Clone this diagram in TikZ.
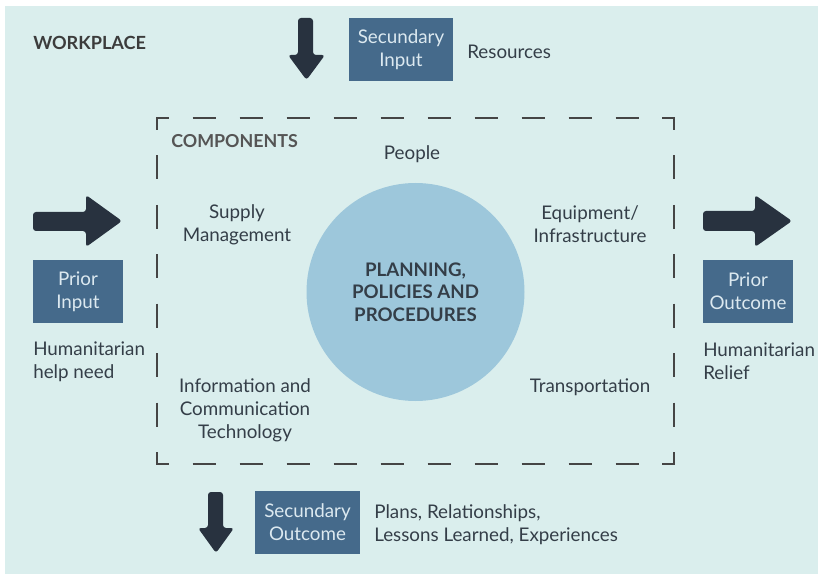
\documentclass[tikz,border=0pt]{standalone}
\usepackage{fontspec}
\setmainfont{Lato}
\definecolor{bgc}{HTML}{DAEEED}
\definecolor{circc}{HTML}{9DC7DB}
\definecolor{boxc}{HTML}{456A8B}
\definecolor{boxtxt}{HTML}{DCE9F0}
\definecolor{arrc}{HTML}{28323F}
\definecolor{txtc}{HTML}{343E48}
\definecolor{dashc}{HTML}{454545}
\definecolor{headc}{HTML}{3C3C3C}
\definecolor{compc}{HTML}{555555}
\tikzset{
  lbl/.style={inner sep=0pt, text=txtc, align=center, font=\fontsize{14.1}{17.1}\selectfont},
  lbll/.style={lbl, align=left},
  bluebox/.style={fill=boxc, text=boxtxt, inner sep=0pt, align=center,
    font=\fontsize{14.1}{17.1}\selectfont, minimum height=63*0.75pt},
  bigarrow/.style={fill=arrc, rounded corners=3*0.75pt},
  sidedash/.style={draw=dashc, line width=1.3pt},
  corner/.style={draw=dashc, line width=1.3pt, miter limit=10},
}
\begin{document}
\begin{tikzpicture}[x=0.75pt, y=-0.75pt]
\useasboundingbox (0,0) rectangle (818,574);
\fill[bgc] (5,6) rectangle (818,574);

% dashed components frame
\draw[sidedash, dash pattern=on 23*0.75pt off 24*0.75pt, dash phase=11.5*0.75pt] (157,118) -- (674,118);
\draw[sidedash, dash pattern=on 23*0.75pt off 24*0.75pt, dash phase=11.5*0.75pt] (157,464) -- (674,464);
\draw[sidedash, dash pattern=on 24*0.75pt off 25.43*0.75pt, dash phase=12*0.75pt] (157,118) -- (157,464);
\draw[sidedash, dash pattern=on 24*0.75pt off 25.43*0.75pt, dash phase=12*0.75pt] (674,118) -- (674,464);
\draw[corner] (157,130) -- (157,118) -- (169,118);
\draw[corner] (662,118) -- (674,118) -- (674,130);
\draw[corner] (157,452) -- (157,464) -- (169,464);
\draw[corner] (662,464) -- (674,464) -- (674,452);

% arrows
\fill[bigarrow] (298,18) -- (313,18) -- (313,55) -- (325,55) -- (306.5,80) -- (288,55) -- (298,55) -- cycle;
\fill[bigarrow] (208,492) -- (223,492) -- (223,528) -- (234,528) -- (216,553) -- (198,528) -- (208,528) -- cycle;
\fill[bigarrow] (33,212) -- (86,212) -- (86,195) -- (122,221) -- (86,247) -- (86,231) -- (33,231) -- cycle;
\fill[bigarrow] (703,211) -- (755,211) -- (755,195) -- (792,221) -- (755,247) -- (755,231) -- (703,231) -- cycle;

% central circle
\node (core) [circle, fill=circc, minimum size=218*0.75pt, inner sep=0pt, text=txtc,
  align=center, font=\fontsize{14}{17}\selectfont\bfseries] at (415.5,292)
  {PLANNING,\\POLICIES AND\\PROCEDURES};

% headings
\node (workplace) [inner sep=0pt, anchor=west, text=headc, font=\fontsize{13.6}{17}\selectfont\bfseries] at (33,43) {WORKPLACE};
\node (components) [inner sep=0pt, anchor=west, text=compc, font=\fontsize{13.4}{17}\selectfont\bfseries] at (171,141) {COMPONENTS};

% boxes
\node (secin) [bluebox, minimum width=104*0.75pt] at (401,49.5) {Secundary\\Input};
\node (priorin) [bluebox, minimum width=90*0.75pt] at (78,291.5) {Prior\\Input};
\node (priorout) [bluebox, minimum width=90*0.75pt] at (748,291.5) {Prior\\Outcome};
\node (secout) [bluebox, minimum width=105*0.75pt] at (307.5,522.5) {Secundary\\Outcome};

% labels
\node (resources) [lbl, anchor=west] at (467,51.5) {Resources};
\node (needs) [lbll, anchor=west] at (33,361.5) {Humanitarian\\help need};
\node (relief) [lbll, anchor=west] at (703,361.5) {Humanitarian\\Relief};
\node (people) [lbl] at (412,154.5) {People};
\node (supply) [lbl] at (237,224.5) {Supply\\Management};
\node (ict) [lbl] at (245,410.5) {Information and\\Communication\\Technology};
\node (equip) [lbl] at (590,224.5) {Equipment/\\Infrastructure};
\node (transport) [lbl] at (590,387.5) {Transportation};
\node (plans) [lbll, anchor=west] at (374,524.5) {Plans, Relationships,\\Lessons Learned, Experiences};
\end{tikzpicture}
\end{document}
